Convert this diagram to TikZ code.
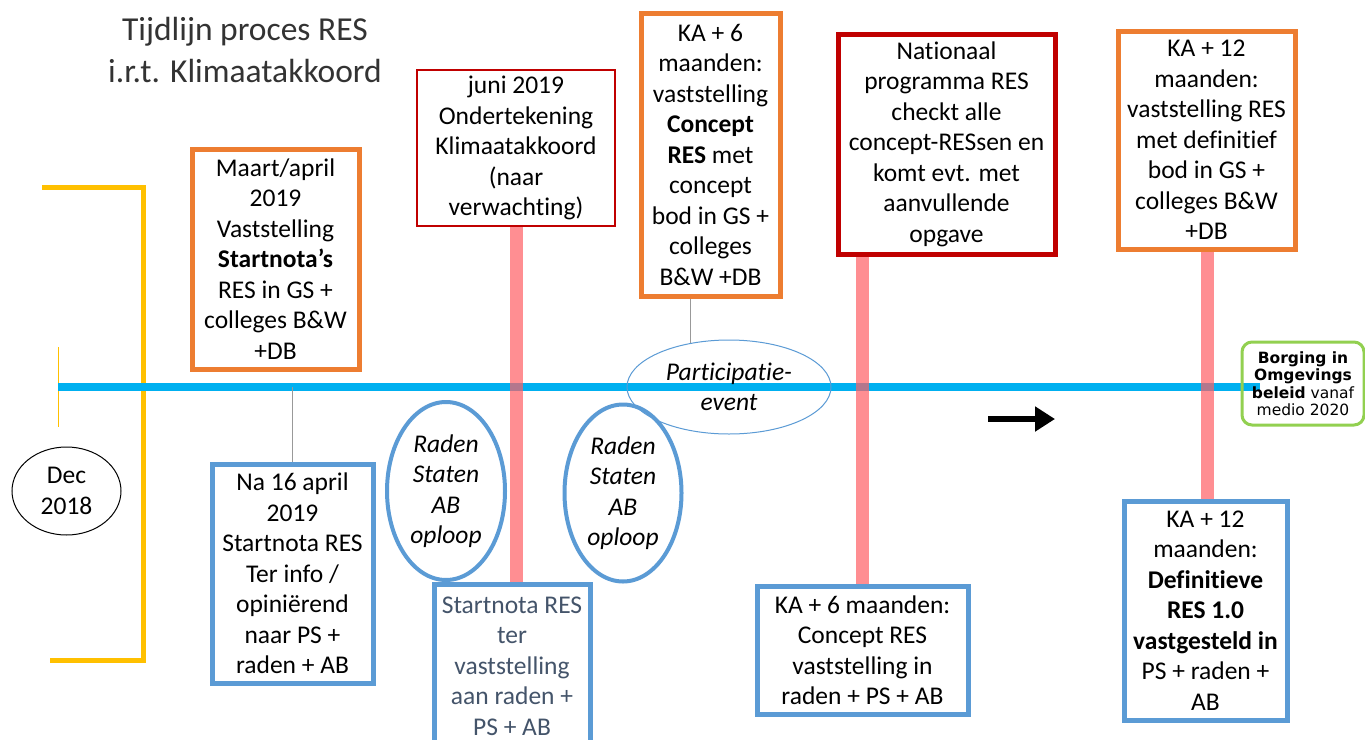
\documentclass[tikz,border=0pt]{standalone}
\usepackage{fontspec}
\setmainfont{Carlito}[Ligatures=NoCommon]
\newfontfamily\verdana{DejaVu Sans}
\usetikzlibrary{arrows.meta,shapes.geometric}
\definecolor{resorange}{HTML}{ED7D31}
\definecolor{resblue}{HTML}{5B9BD5}
\definecolor{resred}{HTML}{C00000}
\definecolor{tlblue}{HTML}{00B0F0}
\definecolor{resyellow}{HTML}{FFC000}
\definecolor{resgreen}{HTML}{92D050}
\definecolor{slate}{HTML}{44546A}
\definecolor{respink}{RGB}{255,95,100}

\begin{document}
\begin{tikzpicture}[x=1pt,y=-1pt,
    every node/.style={align=center,inner sep=0pt,font=\fontsize{25.5}{30.5}\selectfont},
    box/.style={draw,line width=5pt},
    obox/.style={box,draw=resorange},
    bbox/.style={box,draw=resblue},
    rbox/.style={box,draw=resred},
    oploop/.style={ellipse,draw=resblue,line width=4pt,font=\fontsize{25.5}{30.5}\selectfont\itshape},
    pinkline/.style={respink,line width=13pt,opacity=.7},
    greyline/.style={gray!80,line width=1pt}]
  \useasboundingbox (0,0) rectangle (1365,739);
  \clip (0,0) rectangle (1365,739);
  \fill[white] (0,0) rectangle (1365,739);

  \node[text=black!80,font=\fontsize{33.5}{42}\selectfont] (title) at (245,50)
    {Tijdlijn proces RES\\i.r.t. Klimaatakkoord};

  % bracket and timeline
  \draw[resyellow,line width=5pt] (42,187) -- (143,187) -- (143,660) -- (50,660);
  \draw[resyellow,line width=1pt] (58,347) -- (58,427);
  \coordinate (tl0) at (58,387);
  \coordinate (tl1) at (1260,387);
  \draw[tlblue,line width=8pt] (tl0) -- (tl1);

  \node[ellipse,draw,line width=1pt,minimum width=109,minimum height=88] (dec) at (66.5,491) {Dec\\2018};

  \node[obox,minimum width=167,minimum height=220] (maart) at (275.5,259)
    {Maart/april\\2019\\Vaststelling\\\textbf{Startnota’s}\\RES in GS +\\colleges B\&W\\+DB};
  \node[bbox,minimum width=161,minimum height=219] (na16) at (292.5,573.5)
    {Na 16 april\\2019\\Startnota RES\\Ter info /\\opiniërend\\naar PS +\\raden + AB};
  \node[rbox,line width=2pt,minimum width=198,minimum height=156] (juni) at (516,148)
    {juni 2019\\Ondertekening\\Klimaatakkoord\\(naar\\verwachting)};
  \node[oploop,minimum width=118,minimum height=178] (rad1) at (446,491) {Raden\\Staten\\AB\\oploop};
  \node[oploop,minimum width=117,minimum height=177] (rad2) at (623,493) {Raden\\Staten\\AB\\oploop};
  \node[bbox,text=slate,minimum width=156,minimum height=164] (startb) at (512,666)
    {Startnota RES\\ter\\vaststelling\\aan raden +\\PS + AB};
  \node[obox,minimum width=139,minimum height=283] (ka6) at (710.5,154.5)
    {KA + 6\\maanden:\\vaststelling\\\textbf{Concept}\\\textbf{RES} met\\concept\\bod in GS +\\colleges\\B\&W +DB};
  \node[ellipse,draw=resblue,line width=1pt,minimum width=204,minimum height=94,
    font=\fontsize{25.5}{30}\selectfont\itshape] (part) at (729,387) {Participatie-\\event};
  \node[rbox,minimum width=217,minimum height=220] (nat) at (946.5,144)
    {Nationaal\\programma RES\\checkt alle\\concept-RESsen en\\komt evt. met\\aanvullende\\opgave};
  \node[bbox,minimum width=211,minimum height=128] (kab) at (862.5,650)
    {KA + 6 maanden:\\Concept RES\\vaststelling in\\raden + PS + AB};
  \node[obox,minimum width=177,minimum height=218] (ka12) at (1206.5,140)
    {KA + 12\\maanden:\\vaststelling RES\\met definitief\\bod in GS +\\colleges B\&W\\+DB};
  \node[bbox,minimum width=163,minimum height=219] (ka12b) at (1205.5,610.5)
    {KA + 12\\maanden:\\\textbf{Definitieve}\\\textbf{RES 1.0}\\\textbf{vastgesteld in}\\PS + raden +\\AB};
  \node[draw=resgreen,line width=3pt,rounded corners=10pt,minimum width=122,minimum height=83,
    font=\verdana\fontsize{15.5}{17.5}\selectfont] (borg) at (1303,383.5)
    {\textbf{Borging in}\\\textbf{Omgevings}\\\textbf{beleid} vanaf\\medio 2020};

  % stems
  \coordinate (x2) at (862,0);
  \coordinate (x3) at (1207,0);
  \draw[pinkline] (juni.south) -- (juni.south |- startb.north);
  \draw[pinkline] (x2 |- nat.south) -- (x2 |- kab.north);
  \draw[pinkline] (x3 |- ka12.south) -- (x3 |- ka12b.north);
  \path (na16.north) edge[greyline] (na16.north |- tl0)
        (part.131 |- ka6.south) edge[greyline] (part.131);

  \coordinate (arr0) at (988,419);
  \coordinate (arr1) at (1055,419);
  \draw[line width=6pt,-{Triangle[length=20pt,width=24pt]}] (arr0) -- (arr1);
\end{tikzpicture}
\end{document}
